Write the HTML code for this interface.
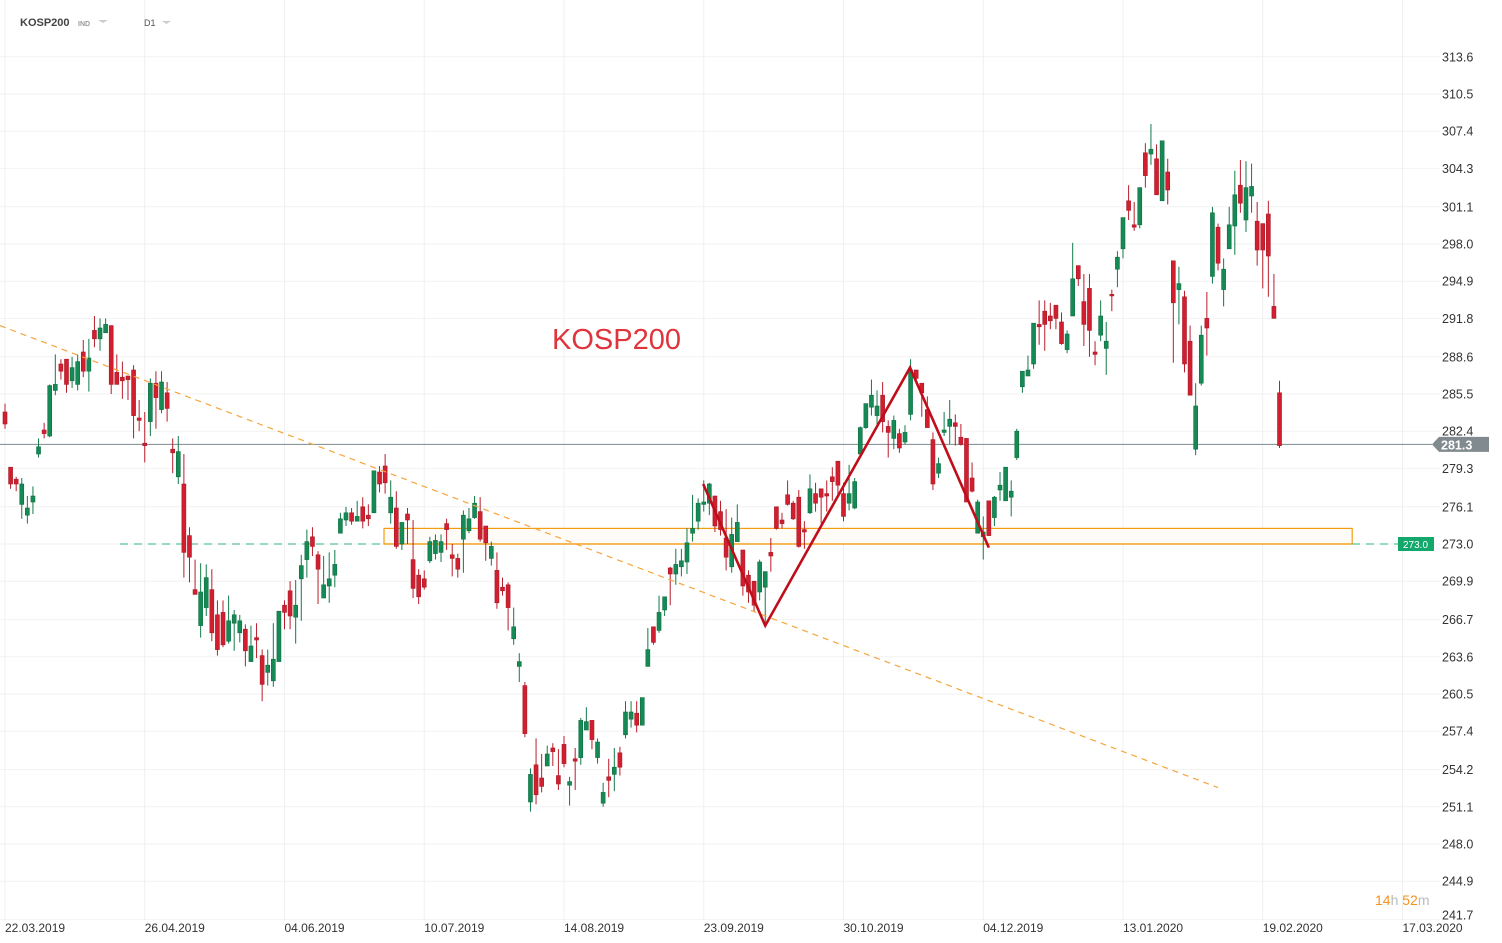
<!DOCTYPE html>
<html><head><meta charset="utf-8"><style>
body{margin:0;background:#fff;font-family:"Liberation Sans",sans-serif;}
svg{display:block}
</style></head><body>
<svg id="chart" width="1502" height="943" xmlns="http://www.w3.org/2000/svg">
<g id="grid"></g>
<g id="annot-under"></g>
<g id="candles"></g>
<g id="annot-over"></g>
<g id="axes"></g>
<text x="20" y="26" font-size="11" font-weight="bold" fill="#444">KOSP200</text>
<text x="78" y="26" font-size="7" font-weight="bold" fill="#999">IND</text>
<path d="M98 20 L108 20 L103 23 Z" fill="#ccc"/>
<text x="144" y="26" font-size="9" fill="#555">D1</text>
<path d="M162 21 L171 21 L166.5 24 Z" fill="#ccc"/>
<text x="552" y="349" font-size="29" fill="#e0343c">KOSP200</text>
<text x="1375" y="905" font-size="14"><tspan fill="#f7931e">14</tspan><tspan fill="#bbb">h </tspan><tspan fill="#f7931e">52</tspan><tspan fill="#bbb">m</tspan></text>
</svg>
<script>
const ohlc=[
[284.0,284.7,282.6,283.0],[279.4,279.4,277.6,278.0],[278.4,278.6,277.4,278.0],[276.3,278.5,275.1,278.0],[275.4,277.0,274.7,276.0],
[276.5,277.8,275.5,277.0],[280.5,281.8,280.2,281.1],[282.5,283.1,281.8,282.2],[282.0,286.3,281.9,286.2],[285.8,288.8,285.4,286.3],
[288.0,288.4,286.7,287.4],[288.4,288.4,285.6,286.3],[286.6,288.6,286.0,287.7],[286.3,288.8,285.8,288.2],[289.0,290.0,286.9,287.4],
[287.4,290.1,285.7,288.5],[290.8,292.0,289.4,290.1],[290.1,291.8,289.1,291.0],[290.6,291.8,290.6,291.3],[291.2,291.2,285.5,286.3],
[287.3,288.8,286.3,286.3],[286.9,288.2,285.1,286.6],[287.0,287.0,285.0,286.7],[287.5,287.9,281.8,283.7],[283.5,285.0,282.4,283.3],
[281.4,284.0,279.8,281.2],[283.2,286.8,282.0,286.4],[286.4,287.4,282.6,285.2],[284.2,287.4,283.9,286.5],[285.6,286.5,283.2,284.3],
[280.9,281.8,278.9,280.6],[278.6,282.0,278.0,280.7],[278.0,280.5,270.2,272.3],[273.7,274.4,269.8,271.9],[269.2,271.7,268.8,268.8],
[266.2,271.4,265.2,269.0],[267.7,271.3,267.0,270.2],[269.2,270.9,264.9,265.6],[267.1,268.3,263.7,264.2],[267.3,268.3,264.4,264.6],
[264.9,268.7,264.7,266.6],[266.4,267.5,264.1,267.1],[265.6,267.1,264.8,266.6],[265.9,266.3,262.8,264.1],[263.2,266.2,263.2,264.5],
[265.2,266.4,263.5,265.0],[263.7,264.2,259.9,261.3],[262.3,264.2,261.2,262.9],[261.6,266.4,261.1,263.4],[263.2,267.4,263.2,267.4],
[267.9,268.3,265.9,267.3],[269.1,269.9,265.9,267.0],[266.9,270.0,264.7,267.9],[270.1,272.1,266.6,271.2],[271.7,274.2,270.2,273.2],
[273.6,274.4,272.0,272.8],[272.1,272.4,268.0,270.9],[268.5,272.0,268.5,269.6],[269.5,272.3,268.1,270.1],[270.4,272.5,269.4,271.3],
[273.9,275.6,273.9,275.1],[275.0,276.1,274.5,275.6],[275.6,276.0,274.6,274.9],[274.9,276.6,274.9,275.3],[276.1,276.9,274.3,274.9],
[275.4,276.3,274.5,275.1],[275.6,279.1,275.6,279.1],[279.0,279.5,277.3,278.0],[279.5,280.5,277.2,278.1],[275.6,278.3,274.7,276.9],
[276.0,277.4,272.6,272.8],[273.0,274.8,272.5,274.8],[275.5,276.0,273.0,275.0],[271.7,275.0,268.5,269.3],[270.4,270.9,268.0,268.6],
[270.1,270.8,269.2,269.4],[271.6,273.6,271.4,273.2],[272.2,273.8,271.7,273.3],[272.3,273.8,271.5,273.2],[274.7,275.1,272.5,274.2],
[272.1,273.0,270.3,271.8],[271.8,272.2,270.2,270.9],[273.4,275.8,270.6,275.4],[274.1,276.0,273.9,275.1],[275.2,277.0,275.1,276.4],
[275.7,276.9,273.2,273.4],[274.5,274.5,271.6,273.1],[271.8,273.2,271.2,272.8],[270.8,272.3,267.6,268.1],[269.4,270.2,268.7,269.1],
[269.6,269.8,265.8,267.7],[265.1,267.7,264.6,266.1],[262.8,263.9,261.5,263.2],[261.2,261.5,256.9,257.2],[251.5,254.3,250.7,253.8],
[254.6,256.8,251.3,252.1],[253.5,255.5,252.3,252.8],[254.5,256.2,254.5,255.5],[256.0,256.4,254.5,255.7],[253.7,255.9,252.5,253.0],
[256.3,257.0,254.4,254.7],[252.9,253.6,251.2,253.2],[255.1,256.0,252.5,254.9],[255.2,258.5,254.6,258.3],[257.5,259.4,257.5,258.2],
[258.3,258.3,255.9,256.7],[255.2,256.8,254.7,256.5],[251.4,253.1,251.1,252.3],[253.6,255.1,251.9,253.3],[253.8,256.0,252.4,254.4],
[255.6,256.1,253.7,254.4],[257.1,259.9,256.8,259.0],[258.4,259.9,257.7,259.0],[258.9,259.9,257.3,257.9],[257.9,260.2,257.9,260.2],
[262.8,266.0,262.8,264.2],[266.1,266.1,264.6,264.8],[265.8,268.7,265.6,267.3],[267.5,268.6,267.0,268.6],[271.0,271.1,267.9,270.5],
[270.5,272.6,269.6,271.3],[271.1,272.6,270.3,271.6],[271.5,274.3,270.5,273.1],[273.9,277.1,273.2,274.3],[274.9,276.8,274.2,276.4],
[276.3,278.3,275.7,276.5],[276.4,278.1,275.4,278.0],[277.0,277.0,274.0,274.5],[275.7,276.6,273.7,274.2],[273.5,275.9,270.8,271.9],
[271.1,275.2,270.6,273.8],[273.2,276.3,273.2,274.8],[272.5,272.5,268.7,269.5],[270.4,270.8,268.1,269.0],[269.9,269.9,267.4,267.9],
[269.0,271.7,268.3,271.5],[269.4,270.7,266.2,270.7],[272.3,273.5,270.7,272.0],[276.1,276.1,274.2,274.3],[275.0,275.6,274.3,274.7],
[277.1,278.3,276.2,276.3],[276.4,276.6,275.0,275.1],[276.9,277.5,272.7,272.8],[274.2,274.9,272.6,274.0],[275.6,278.8,275.5,277.6],
[277.2,278.1,275.7,276.4],[277.6,277.6,274.7,276.9],[277.2,278.3,275.7,277.0],[278.6,279.4,276.6,278.2],[279.9,279.9,277.1,277.9],
[277.2,278.1,274.9,275.3],[276.4,279.6,275.8,277.2],[276.0,278.5,275.9,278.2],[280.5,282.8,280.5,282.7],[282.7,284.7,282.6,284.7],
[284.4,286.7,283.7,285.4],[283.7,285.8,282.8,284.5],[285.4,286.5,282.3,283.2],[282.8,283.3,280.2,282.3],[281.8,283.7,280.9,283.3],
[282.2,282.6,280.6,281.0],[281.5,282.9,281.3,282.3],[283.8,288.4,283.3,287.5],[287.5,287.5,286.4,286.8],[286.4,286.4,283.6,285.6],
[284.2,285.3,282.7,282.7],[281.7,282.3,277.5,278.0],[278.9,280.2,278.5,279.7],[282.3,284.0,282.0,282.5],[282.8,285.0,281.3,283.4],
[283.1,283.8,281.2,282.8],[281.9,283.0,281.2,281.3],[281.8,281.8,276.5,276.5],[278.5,279.8,277.3,277.4],[273.9,276.7,273.9,276.5],
[273.6,275.3,271.7,274.0],[276.6,276.6,273.7,273.7],[275.2,277.0,274.5,276.9],[277.5,279.0,276.6,277.9],[276.6,279.4,276.6,279.4],
[276.9,278.3,275.3,277.4],[280.2,282.6,280.0,282.4],[286.1,287.4,285.6,287.4],[287.0,288.7,287.0,287.5],[288.0,291.4,287.6,291.4],
[291.3,293.3,289.6,291.1],[292.4,293.3,289.1,291.3],[292.0,293.1,290.9,291.6],[292.9,292.9,290.9,291.8],[291.5,292.3,289.6,289.7],
[289.2,290.8,288.9,290.5],[292.0,298.1,292.0,295.1],[296.2,296.2,294.5,295.1],[293.2,295.5,289.5,291.3],[294.3,295.5,288.6,290.8],
[289.0,289.9,287.9,288.8],[290.4,293.3,289.9,292.0],[289.3,291.5,287.1,289.9],[293.8,294.2,292.4,293.7],[295.9,297.4,294.4,296.9],
[297.6,300.2,296.8,300.2],[301.6,302.9,300.0,300.8],[299.6,301.5,299.1,299.4],[299.6,302.7,299.3,302.7],[305.6,306.4,302.7,303.7],
[305.5,308.0,304.6,305.9],[305.1,306.3,302.1,302.1],[301.6,306.6,301.6,306.6],[304.0,305.1,301.3,302.5],[296.6,296.6,288.1,293.1],
[294.2,296.1,291.3,294.7],[293.6,294.1,287.3,288.0],[289.9,291.2,285.4,285.4],[280.9,286.4,280.4,284.5],[286.4,291.2,286.2,290.4],
[291.8,294.0,288.7,291.0],[295.3,301.1,294.7,300.6],[299.4,299.7,295.8,296.4],[294.2,296.8,292.8,295.9],[297.6,301.1,297.6,299.6],
[299.5,304.1,297.1,302.1],[302.9,305.0,300.6,301.4],[300.0,304.9,299.0,302.7],[302.0,304.7,300.6,302.8],[299.9,301.5,296.2,297.5],
[299.7,299.7,294.3,297.5],[300.5,301.6,293.6,297.0],[292.8,295.5,291.8,291.8],[285.6,286.6,281.0,281.2]
];
const yTicks=[313.6,310.5,307.4,304.3,301.1,298.0,294.9,291.8,288.6,285.5,282.4,279.3,276.1,273.0,269.9,266.7,263.6,260.5,257.4,254.2,251.1,248.0,244.9,241.7];
const dateLabels=['22.03.2019','26.04.2019','04.06.2019','10.07.2019','14.08.2019','23.09.2019','30.10.2019','04.12.2019','13.01.2020','19.02.2020','17.03.2020'];
const dateIdx=[0,25,50,75,100,125,150,175,200,225,250];
const lastPrice=281.3;
const levelPrice=273.0;
const zoneTop=274.3, zoneStart=67.8, zoneEnd=241;
const trendIdx=[-0.9,217], trendPrice=[291.2,252.7];
const zigIdx=[124.9,136,161.9,176], zigPrice=[278.0,266.2,287.7,272.7];

const NS='http://www.w3.org/2000/svg';
const X=i=>5+i*5.59;
const Y=p=>544-(p-273)*12;
function mk(parent,tag,attrs){const e=document.createElementNS(NS,tag);for(const k in attrs)e.setAttribute(k,attrs[k]);document.getElementById(parent).appendChild(e);return e;}

// grid
yTicks.forEach(v=>{
  const l=mk('grid','line',{x1:0,x2:1440,y1:Y(v),y2:Y(v),stroke:'#f2f2f2','stroke-width':1});
  
  
  const t=mk('axes','text',{x:1442,y:Math.min(Y(v),915)+4.5,'font-size':12.5,fill:'#333'});
  t.textContent=v.toFixed(1);
  
  
});
dateIdx.forEach((d,k)=>{
  const l=mk('grid','line',{x1:X(d),x2:X(d),y1:0,y2:920,stroke:'#f0f0f0','stroke-width':1});
  
  
  const t=mk('axes','text',{x:X(d),y:932,'font-size':12,fill:'#333'});
  t.textContent=dateLabels[k];
  
  
});

// zone box and level
const zb=mk('annot-under','rect',{x:X(zoneStart),y:Y(zoneTop),width:X(zoneEnd)-X(zoneStart),height:Y(levelPrice)-Y(zoneTop),fill:'#fffcf7',stroke:'#f39c12','stroke-width':1.2});


const lv=mk('annot-under','line',{x1:120,x2:1398,y1:Y(levelPrice),y2:Y(levelPrice),stroke:'#2eb47a','stroke-width':1,'stroke-dasharray':'8 6'});


const lvo=mk('annot-under','line',{x1:X(zoneStart),x2:X(zoneEnd),y1:Y(levelPrice),y2:Y(levelPrice),stroke:'#f39c12','stroke-width':1.2});


const lp=mk('annot-under','line',{x1:0,x2:1432,y1:Y(lastPrice),y2:Y(lastPrice),stroke:'#7d8a8e','stroke-width':1});



// candles
ohlc.forEach((c,i)=>{
  const [o,h,l,cl]=c;const up=cl>=o;const col=up?'#158a55':'#d21f30';const x=X(i);
  const w=mk('candles','line',{x1:x,x2:x,y1:Y(h),y2:Y(l),stroke:up?'#127a4a':'#b81d2a','stroke-width':1});
  
  
  const top=Y(Math.max(o,cl));const hh=Math.max(1.5,Math.abs(Y(o)-Y(cl)));
  const b=mk('candles','rect',{x:x-2,y:top,width:4,height:hh,fill:col,stroke:up?'#0f6e42':'#a81826','stroke-width':0.6});
  
  
});

// trendline
const tl=mk('annot-over','line',{x1:X(trendIdx[0]),y1:Y(trendPrice[0]),x2:X(trendIdx[1]),y2:Y(trendPrice[1]),stroke:'#f7a43a','stroke-width':1.2,'stroke-dasharray':'6 5'});


// zigzag
const zz=mk('annot-over','polyline',{points:zigIdx.map((d,k)=>X(d)+','+Y(zigPrice[k])).join(' '),fill:'none',stroke:'#c00d1a','stroke-width':2.6});



// price tags
const pt=mk('axes','path',{d:`M1432 ${Y(lastPrice)} L1439 ${Y(lastPrice)-7.5} L1489 ${Y(lastPrice)-7.5} L1489 ${Y(lastPrice)+7.5} L1439 ${Y(lastPrice)+7.5} Z`,fill:'#818b8f'});


const ptt=mk('axes','text',{x:1441,y:Y(lastPrice)+5,'font-size':12.5,fill:'#fff','font-weight':'bold'});
ptt.textContent=lastPrice.toFixed(1);


const gt=mk('axes','rect',{x:1398,y:Y(levelPrice)-7,width:36,height:14,fill:'#13a86b'});


const gtt=mk('axes','text',{x:1403,y:Y(levelPrice)+4,'font-size':10,fill:'#fff'});
gtt.textContent=levelPrice.toFixed(1);


</script>
</body></html>
